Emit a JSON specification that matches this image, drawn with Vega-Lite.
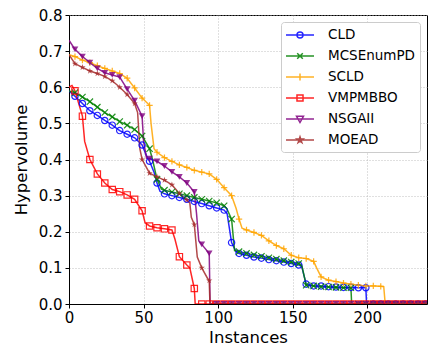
{
"$schema": "https://vega.github.io/schema/vega-lite/v6.json",
"width": 358, "height": 289,
"autosize": {"type": "none"},
"padding": {"left": 69, "top": 15, "right": 3, "bottom": 48},
"config": {"font": "DejaVu Sans", "view": {"stroke": "black", "strokeWidth": 1},
  "legend": {"title": null, "orient": "none", "legendX": 212, "legendY": 7, "padding": 5, "cornerRadius": 3,
    "strokeColor": "#cccccc", "fillColor": "white", "symbolSize": 196, "symbolOffset": 6, "labelOffset": 20,
    "rowPadding": 6, "labelFontSize": 13.5, "labelColor": "black", "labelFont": "DejaVu Sans", "symbolStrokeWidth": 1.5, "symbolOpacity": 0.85}},
"data": {"values": [
{"s":"CLD","x":0,"y":0.59},{"s":"CLD","x":4,"y":0.575},{"s":"CLD","x":9,"y":0.555},{"s":"CLD","x":14,"y":0.535},{"s":"CLD","x":19,"y":0.522},{"s":"CLD","x":24,"y":0.508},{"s":"CLD","x":29,"y":0.495},{"s":"CLD","x":34,"y":0.48},{"s":"CLD","x":39,"y":0.47},{"s":"CLD","x":44,"y":0.46},{"s":"CLD","x":49,"y":0.44},{"s":"CLD","x":52,"y":0.41},{"s":"CLD","x":54,"y":0.395},{"s":"CLD","x":57,"y":0.365},{"s":"CLD","x":59,"y":0.335},{"s":"CLD","x":61,"y":0.312},{"s":"CLD","x":64,"y":0.305},{"s":"CLD","x":69,"y":0.3},{"s":"CLD","x":74,"y":0.295},{"s":"CLD","x":79,"y":0.29},{"s":"CLD","x":84,"y":0.284},{"s":"CLD","x":89,"y":0.278},{"s":"CLD","x":94,"y":0.272},{"s":"CLD","x":99,"y":0.266},{"s":"CLD","x":104,"y":0.26},{"s":"CLD","x":106,"y":0.25},{"s":"CLD","x":109,"y":0.17},{"s":"CLD","x":112,"y":0.145},{"s":"CLD","x":114,"y":0.14},{"s":"CLD","x":119,"y":0.135},{"s":"CLD","x":124,"y":0.13},{"s":"CLD","x":129,"y":0.127},{"s":"CLD","x":134,"y":0.123},{"s":"CLD","x":139,"y":0.12},{"s":"CLD","x":144,"y":0.116},{"s":"CLD","x":149,"y":0.112},{"s":"CLD","x":154,"y":0.108},{"s":"CLD","x":156,"y":0.104},{"s":"CLD","x":159,"y":0.055},{"s":"CLD","x":164,"y":0.05},{"s":"CLD","x":169,"y":0.05},{"s":"CLD","x":174,"y":0.048},{"s":"CLD","x":179,"y":0.047},{"s":"CLD","x":184,"y":0.046},{"s":"CLD","x":189,"y":0.046},{"s":"CLD","x":194,"y":0.045},{"s":"CLD","x":199,"y":0.045},{"s":"CLD","x":199.5,"y":0},{"s":"CLD","x":204,"y":0},{"s":"CLD","x":209,"y":0},{"s":"CLD","x":214,"y":0},{"s":"CLD","x":219,"y":0},{"s":"CLD","x":224,"y":0},{"s":"CLD","x":229,"y":0},{"s":"CLD","x":234,"y":0},{"s":"CLD","x":239,"y":0},{"s":"CLD","x":240,"y":0},
{"s":"MCSEnumPD","x":0,"y":0.59},{"s":"MCSEnumPD","x":4,"y":0.585},{"s":"MCSEnumPD","x":9,"y":0.573},{"s":"MCSEnumPD","x":14,"y":0.56},{"s":"MCSEnumPD","x":19,"y":0.545},{"s":"MCSEnumPD","x":24,"y":0.53},{"s":"MCSEnumPD","x":29,"y":0.518},{"s":"MCSEnumPD","x":34,"y":0.505},{"s":"MCSEnumPD","x":39,"y":0.495},{"s":"MCSEnumPD","x":44,"y":0.483},{"s":"MCSEnumPD","x":49,"y":0.465},{"s":"MCSEnumPD","x":54,"y":0.43},{"s":"MCSEnumPD","x":56,"y":0.4},{"s":"MCSEnumPD","x":59,"y":0.345},{"s":"MCSEnumPD","x":62,"y":0.318},{"s":"MCSEnumPD","x":64,"y":0.315},{"s":"MCSEnumPD","x":69,"y":0.31},{"s":"MCSEnumPD","x":74,"y":0.305},{"s":"MCSEnumPD","x":79,"y":0.3},{"s":"MCSEnumPD","x":84,"y":0.295},{"s":"MCSEnumPD","x":89,"y":0.29},{"s":"MCSEnumPD","x":94,"y":0.285},{"s":"MCSEnumPD","x":99,"y":0.28},{"s":"MCSEnumPD","x":104,"y":0.272},{"s":"MCSEnumPD","x":106,"y":0.262},{"s":"MCSEnumPD","x":109,"y":0.235},{"s":"MCSEnumPD","x":111,"y":0.148},{"s":"MCSEnumPD","x":114,"y":0.145},{"s":"MCSEnumPD","x":119,"y":0.14},{"s":"MCSEnumPD","x":124,"y":0.136},{"s":"MCSEnumPD","x":129,"y":0.132},{"s":"MCSEnumPD","x":134,"y":0.128},{"s":"MCSEnumPD","x":139,"y":0.124},{"s":"MCSEnumPD","x":144,"y":0.12},{"s":"MCSEnumPD","x":149,"y":0.116},{"s":"MCSEnumPD","x":154,"y":0.112},{"s":"MCSEnumPD","x":156,"y":0.108},{"s":"MCSEnumPD","x":159,"y":0.052},{"s":"MCSEnumPD","x":164,"y":0.05},{"s":"MCSEnumPD","x":169,"y":0.048},{"s":"MCSEnumPD","x":174,"y":0.047},{"s":"MCSEnumPD","x":179,"y":0.046},{"s":"MCSEnumPD","x":184,"y":0.045},{"s":"MCSEnumPD","x":189,"y":0.045},{"s":"MCSEnumPD","x":189.5,"y":0},{"s":"MCSEnumPD","x":194,"y":0},{"s":"MCSEnumPD","x":199,"y":0},{"s":"MCSEnumPD","x":204,"y":0},{"s":"MCSEnumPD","x":209,"y":0},{"s":"MCSEnumPD","x":214,"y":0},{"s":"MCSEnumPD","x":219,"y":0},{"s":"MCSEnumPD","x":224,"y":0},{"s":"MCSEnumPD","x":229,"y":0},{"s":"MCSEnumPD","x":234,"y":0},{"s":"MCSEnumPD","x":239,"y":0},{"s":"MCSEnumPD","x":240,"y":0},
{"s":"SCLD","x":0,"y":0.69},{"s":"SCLD","x":4,"y":0.685},{"s":"SCLD","x":9,"y":0.675},{"s":"SCLD","x":14,"y":0.668},{"s":"SCLD","x":19,"y":0.66},{"s":"SCLD","x":24,"y":0.652},{"s":"SCLD","x":29,"y":0.645},{"s":"SCLD","x":34,"y":0.638},{"s":"SCLD","x":39,"y":0.625},{"s":"SCLD","x":44,"y":0.598},{"s":"SCLD","x":49,"y":0.57},{"s":"SCLD","x":54,"y":0.55},{"s":"SCLD","x":55,"y":0.5},{"s":"SCLD","x":57,"y":0.43},{"s":"SCLD","x":59,"y":0.42},{"s":"SCLD","x":64,"y":0.405},{"s":"SCLD","x":69,"y":0.395},{"s":"SCLD","x":74,"y":0.385},{"s":"SCLD","x":79,"y":0.378},{"s":"SCLD","x":84,"y":0.37},{"s":"SCLD","x":89,"y":0.365},{"s":"SCLD","x":94,"y":0.36},{"s":"SCLD","x":99,"y":0.345},{"s":"SCLD","x":104,"y":0.322},{"s":"SCLD","x":109,"y":0.3},{"s":"SCLD","x":112,"y":0.265},{"s":"SCLD","x":114,"y":0.235},{"s":"SCLD","x":116,"y":0.21},{"s":"SCLD","x":119,"y":0.205},{"s":"SCLD","x":124,"y":0.198},{"s":"SCLD","x":129,"y":0.19},{"s":"SCLD","x":134,"y":0.175},{"s":"SCLD","x":139,"y":0.162},{"s":"SCLD","x":144,"y":0.153},{"s":"SCLD","x":149,"y":0.135},{"s":"SCLD","x":154,"y":0.128},{"s":"SCLD","x":159,"y":0.126},{"s":"SCLD","x":164,"y":0.118},{"s":"SCLD","x":166,"y":0.1},{"s":"SCLD","x":169,"y":0.075},{"s":"SCLD","x":174,"y":0.066},{"s":"SCLD","x":179,"y":0.062},{"s":"SCLD","x":184,"y":0.058},{"s":"SCLD","x":189,"y":0.055},{"s":"SCLD","x":194,"y":0.052},{"s":"SCLD","x":199,"y":0.05},{"s":"SCLD","x":204,"y":0.05},{"s":"SCLD","x":209,"y":0.049},{"s":"SCLD","x":211,"y":0.048},{"s":"SCLD","x":212,"y":0},{"s":"SCLD","x":214,"y":0},{"s":"SCLD","x":219,"y":0},{"s":"SCLD","x":224,"y":0},{"s":"SCLD","x":229,"y":0},{"s":"SCLD","x":234,"y":0},{"s":"SCLD","x":239,"y":0},{"s":"SCLD","x":240,"y":0},
{"s":"VMPMBBO","x":0,"y":0.6},{"s":"VMPMBBO","x":2,"y":0.605},{"s":"VMPMBBO","x":4,"y":0.59},{"s":"VMPMBBO","x":9,"y":0.52},{"s":"VMPMBBO","x":10.5,"y":0.45},{"s":"VMPMBBO","x":14,"y":0.4},{"s":"VMPMBBO","x":19,"y":0.36},{"s":"VMPMBBO","x":24,"y":0.335},{"s":"VMPMBBO","x":29,"y":0.317},{"s":"VMPMBBO","x":34,"y":0.311},{"s":"VMPMBBO","x":39,"y":0.302},{"s":"VMPMBBO","x":44,"y":0.29},{"s":"VMPMBBO","x":49,"y":0.258},{"s":"VMPMBBO","x":51,"y":0.225},{"s":"VMPMBBO","x":54,"y":0.216},{"s":"VMPMBBO","x":59,"y":0.211},{"s":"VMPMBBO","x":64,"y":0.208},{"s":"VMPMBBO","x":69,"y":0.205},{"s":"VMPMBBO","x":71,"y":0.18},{"s":"VMPMBBO","x":74,"y":0.131},{"s":"VMPMBBO","x":79,"y":0.108},{"s":"VMPMBBO","x":81,"y":0.1},{"s":"VMPMBBO","x":84,"y":0.043},{"s":"VMPMBBO","x":84.6,"y":0},{"s":"VMPMBBO","x":89,"y":0},{"s":"VMPMBBO","x":94,"y":0},{"s":"VMPMBBO","x":99,"y":0},{"s":"VMPMBBO","x":104,"y":0},{"s":"VMPMBBO","x":109,"y":0},{"s":"VMPMBBO","x":114,"y":0},{"s":"VMPMBBO","x":119,"y":0},{"s":"VMPMBBO","x":124,"y":0},{"s":"VMPMBBO","x":129,"y":0},{"s":"VMPMBBO","x":134,"y":0},{"s":"VMPMBBO","x":139,"y":0},{"s":"VMPMBBO","x":144,"y":0},{"s":"VMPMBBO","x":149,"y":0},{"s":"VMPMBBO","x":154,"y":0},{"s":"VMPMBBO","x":159,"y":0},{"s":"VMPMBBO","x":164,"y":0},{"s":"VMPMBBO","x":169,"y":0},{"s":"VMPMBBO","x":174,"y":0},{"s":"VMPMBBO","x":179,"y":0},{"s":"VMPMBBO","x":184,"y":0},{"s":"VMPMBBO","x":189,"y":0},{"s":"VMPMBBO","x":194,"y":0},{"s":"VMPMBBO","x":199,"y":0},{"s":"VMPMBBO","x":204,"y":0},{"s":"VMPMBBO","x":209,"y":0},{"s":"VMPMBBO","x":214,"y":0},{"s":"VMPMBBO","x":219,"y":0},{"s":"VMPMBBO","x":224,"y":0},{"s":"VMPMBBO","x":229,"y":0},{"s":"VMPMBBO","x":234,"y":0},{"s":"VMPMBBO","x":239,"y":0},{"s":"VMPMBBO","x":240,"y":0},
{"s":"NSGAII","x":0,"y":0.73},{"s":"NSGAII","x":4,"y":0.705},{"s":"NSGAII","x":9,"y":0.685},{"s":"NSGAII","x":14,"y":0.668},{"s":"NSGAII","x":19,"y":0.652},{"s":"NSGAII","x":24,"y":0.64},{"s":"NSGAII","x":29,"y":0.634},{"s":"NSGAII","x":34,"y":0.628},{"s":"NSGAII","x":39,"y":0.595},{"s":"NSGAII","x":44,"y":0.563},{"s":"NSGAII","x":49,"y":0.52},{"s":"NSGAII","x":50,"y":0.45},{"s":"NSGAII","x":52,"y":0.403},{"s":"NSGAII","x":54,"y":0.402},{"s":"NSGAII","x":59,"y":0.395},{"s":"NSGAII","x":64,"y":0.382},{"s":"NSGAII","x":69,"y":0.366},{"s":"NSGAII","x":74,"y":0.352},{"s":"NSGAII","x":79,"y":0.335},{"s":"NSGAII","x":84,"y":0.31},{"s":"NSGAII","x":85.5,"y":0.25},{"s":"NSGAII","x":87,"y":0.175},{"s":"NSGAII","x":89,"y":0.165},{"s":"NSGAII","x":94,"y":0.14},{"s":"NSGAII","x":94.6,"y":0},{"s":"NSGAII","x":99,"y":0},{"s":"NSGAII","x":104,"y":0},{"s":"NSGAII","x":109,"y":0},{"s":"NSGAII","x":114,"y":0},{"s":"NSGAII","x":119,"y":0},{"s":"NSGAII","x":124,"y":0},{"s":"NSGAII","x":129,"y":0},{"s":"NSGAII","x":134,"y":0},{"s":"NSGAII","x":139,"y":0},{"s":"NSGAII","x":144,"y":0},{"s":"NSGAII","x":149,"y":0},{"s":"NSGAII","x":154,"y":0},{"s":"NSGAII","x":159,"y":0},{"s":"NSGAII","x":164,"y":0},{"s":"NSGAII","x":169,"y":0},{"s":"NSGAII","x":174,"y":0},{"s":"NSGAII","x":179,"y":0},{"s":"NSGAII","x":184,"y":0},{"s":"NSGAII","x":189,"y":0},{"s":"NSGAII","x":194,"y":0},{"s":"NSGAII","x":199,"y":0},{"s":"NSGAII","x":204,"y":0},{"s":"NSGAII","x":209,"y":0},{"s":"NSGAII","x":214,"y":0},{"s":"NSGAII","x":219,"y":0},{"s":"NSGAII","x":224,"y":0},{"s":"NSGAII","x":229,"y":0},{"s":"NSGAII","x":234,"y":0},{"s":"NSGAII","x":239,"y":0},{"s":"NSGAII","x":240,"y":0},
{"s":"MOEAD","x":0,"y":0.69},{"s":"MOEAD","x":4,"y":0.665},{"s":"MOEAD","x":9,"y":0.655},{"s":"MOEAD","x":14,"y":0.645},{"s":"MOEAD","x":19,"y":0.638},{"s":"MOEAD","x":24,"y":0.63},{"s":"MOEAD","x":29,"y":0.618},{"s":"MOEAD","x":34,"y":0.6},{"s":"MOEAD","x":39,"y":0.58},{"s":"MOEAD","x":44,"y":0.555},{"s":"MOEAD","x":46,"y":0.53},{"s":"MOEAD","x":47.5,"y":0.43},{"s":"MOEAD","x":49,"y":0.4},{"s":"MOEAD","x":54,"y":0.362},{"s":"MOEAD","x":59,"y":0.352},{"s":"MOEAD","x":64,"y":0.343},{"s":"MOEAD","x":69,"y":0.33},{"s":"MOEAD","x":74,"y":0.306},{"s":"MOEAD","x":79,"y":0.288},{"s":"MOEAD","x":81,"y":0.28},{"s":"MOEAD","x":82,"y":0.24},{"s":"MOEAD","x":84,"y":0.22},{"s":"MOEAD","x":86,"y":0.13},{"s":"MOEAD","x":89,"y":0.1},{"s":"MOEAD","x":93,"y":0.07},{"s":"MOEAD","x":94,"y":0.065},{"s":"MOEAD","x":94.5,"y":0},{"s":"MOEAD","x":99,"y":0},{"s":"MOEAD","x":104,"y":0},{"s":"MOEAD","x":109,"y":0},{"s":"MOEAD","x":114,"y":0},{"s":"MOEAD","x":119,"y":0},{"s":"MOEAD","x":124,"y":0},{"s":"MOEAD","x":129,"y":0},{"s":"MOEAD","x":134,"y":0},{"s":"MOEAD","x":139,"y":0},{"s":"MOEAD","x":144,"y":0},{"s":"MOEAD","x":149,"y":0},{"s":"MOEAD","x":154,"y":0},{"s":"MOEAD","x":159,"y":0},{"s":"MOEAD","x":164,"y":0},{"s":"MOEAD","x":169,"y":0},{"s":"MOEAD","x":174,"y":0},{"s":"MOEAD","x":179,"y":0},{"s":"MOEAD","x":184,"y":0},{"s":"MOEAD","x":189,"y":0},{"s":"MOEAD","x":194,"y":0},{"s":"MOEAD","x":199,"y":0},{"s":"MOEAD","x":204,"y":0},{"s":"MOEAD","x":209,"y":0},{"s":"MOEAD","x":214,"y":0},{"s":"MOEAD","x":219,"y":0},{"s":"MOEAD","x":224,"y":0},{"s":"MOEAD","x":229,"y":0},{"s":"MOEAD","x":234,"y":0},{"s":"MOEAD","x":239,"y":0},{"s":"MOEAD","x":240,"y":0}
]},
"encoding": {
  "x": {"field": "x", "type": "quantitative", "scale": {"domain": [0, 240], "nice": false, "zero": false},
    "axis": {"title": "Instances", "values": [0, 50, 100, 150, 200], "grid": true, "gridDash": [1, 2], "gridColor": "#b0b0b0", "gridWidth": 0.8,
      "labelFontSize": 15, "titleFontSize": 16.5, "titleFontWeight": "normal", "tickSize": 4, "tickColor": "black", "domainColor": "black",
      "labelColor": "black", "titleColor": "black", "labelPadding": 2, "titlePadding": 4, "labelFlush": false, "labelOverlap": false}},
  "y": {"field": "y", "type": "quantitative", "scale": {"domain": [0, 0.8], "nice": false},
    "axis": {"title": "Hypervolume", "values": [0, 0.1, 0.2, 0.3, 0.4, 0.5, 0.6, 0.7, 0.8], "format": ".1f", "grid": true, "gridDash": [1, 2], "gridColor": "#b0b0b0", "gridWidth": 0.8,
      "labelFontSize": 15, "titleFontSize": 16.5, "titleFontWeight": "normal", "tickSize": 4, "tickColor": "black", "domainColor": "black",
      "labelColor": "black", "titleColor": "black", "labelPadding": 3, "titlePadding": 9, "labelFlush": false, "labelOverlap": false}}
},
"layer": [
  {"mark": {"type": "line", "strokeWidth": 1.5, "opacity": 0.85, "clip": true},
   "encoding": {"color": {"field": "s", "type": "nominal", "legend": null,
     "scale": {"domain": ["CLD", "MCSEnumPD", "SCLD", "VMPMBBO", "NSGAII", "MOEAD"], "range": ["blue", "green", "orange", "red", "purple", "brown"]}},
     "detail": {"field": "s"}}},
  {"transform": [{"filter": "datum.x % 5 == 4 && datum.s != 'NSGAII' && datum.s != 'MOEAD'"}],
   "mark": {"type": "point", "filled": false, "strokeWidth": 1.2, "opacity": 0.85, "size": 40, "clip": true},
   "encoding": {"color": {"field": "s", "type": "nominal", "legend": null,
       "scale": {"domain": ["CLD", "MCSEnumPD", "SCLD", "VMPMBBO"], "range": ["blue", "green", "orange", "red"]}},
     "shape": {"field": "s", "type": "nominal", "legend": null,
       "scale": {"domain": ["CLD", "MCSEnumPD", "SCLD", "VMPMBBO"], "range": ["circle", "M-1,-1L1,1M-1,1L1,-1", "M-1,0H1M0,-1V1", "square"]}}}},
  {"transform": [{"filter": "datum.x % 5 == 4 && (datum.s == 'NSGAII' || datum.s == 'MOEAD')"}],
   "mark": {"type": "point", "filled": true, "opacity": 0.8, "size": 45, "clip": true},
   "encoding": {"color": {"field": "s", "type": "nominal", "legend": null,
       "scale": {"domain": ["NSGAII", "MOEAD"], "range": ["purple", "brown"]}},
     "shape": {"field": "s", "type": "nominal", "legend": null,
       "scale": {"domain": ["NSGAII", "MOEAD"], "range": ["triangle-down", "M0,-1L0.225,-0.309L0.951,-0.309L0.363,0.118L0.588,0.809L0,0.382L-0.588,0.809L-0.363,0.118L-0.951,-0.309L-0.225,-0.309Z"]}}}},
  {"transform": [{"filter": "datum.x == 0"}],
   "mark": {"type": "point", "opacity": 0, "filled": false},
   "encoding": {
     "color": {"field": "s", "type": "nominal",
       "scale": {"domain": ["CLD", "MCSEnumPD", "SCLD", "VMPMBBO", "NSGAII", "MOEAD"], "range": ["blue", "green", "orange", "red", "purple", "brown"]}},
     "shape": {"field": "s", "type": "nominal",
       "scale": {"domain": ["CLD", "MCSEnumPD", "SCLD", "VMPMBBO", "NSGAII", "MOEAD"],
         "range": [
           "M-2,0H2M0.43,0A0.43,0.43 0 1,0 -0.43,0A0.43,0.43 0 1,0 0.43,0Z",
           "M-2,0H2M-0.4,-0.4L0.4,0.4M-0.4,0.4L0.4,-0.4",
           "M-2,0H2M0,-0.5V0.5",
           "M-2,0H2M-0.43,-0.43H0.43V0.43H-0.43Z",
           "M-2,0H2M-0.5,-0.4H0.5L0,0.5Z",
           "M-2,0H2M0,-0.45L0.101,-0.139L0.428,-0.139L0.163,0.053L0.265,0.364L0,0.172L-0.265,0.364L-0.163,0.053L-0.428,-0.139L-0.101,-0.139Z"]}}}}
],
"resolve": {"scale": {"shape": "independent", "color": "independent"}}
}
